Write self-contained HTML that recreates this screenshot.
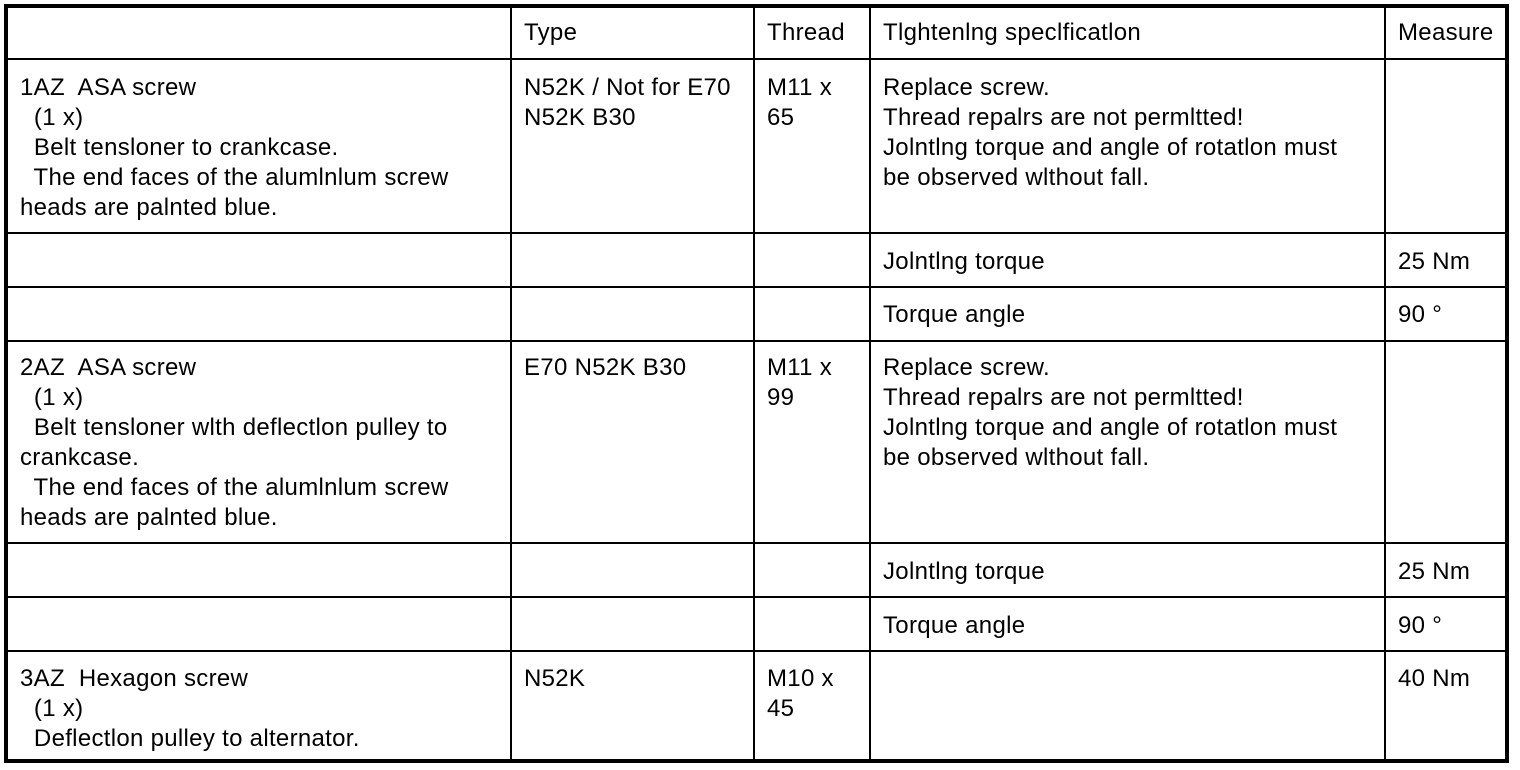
<!DOCTYPE html>
<html><head><meta charset="utf-8"><style>
html,body{margin:0;padding:0;background:#fff;}
body{width:1520px;height:770px;position:relative;overflow:hidden;font-family:"Liberation Sans",Arial,sans-serif;font-size:24px;color:#000;letter-spacing:0.3px;}
.b{position:absolute;left:4px;top:4px;width:1505px;height:759px;border:4px solid #000;box-sizing:border-box;}
.h{position:absolute;left:6px;width:1501px;height:2px;background:#000;}
.v{position:absolute;width:2px;background:#000;}
.t{position:absolute;line-height:30px;white-space:pre;}
</style></head><body>
<div class="b"></div>
<div class="h" style="top:58px"></div>
<div class="h" style="top:232px"></div>
<div class="h" style="top:286px"></div>
<div class="h" style="top:340px"></div>
<div class="h" style="top:542px"></div>
<div class="h" style="top:596px"></div>
<div class="h" style="top:650px"></div>
<div class="v" style="left:510px;top:6px;height:757px"></div>
<div class="v" style="left:753px;top:6px;height:757px"></div>
<div class="v" style="left:869px;top:6px;height:757px"></div>
<div class="v" style="left:1384px;top:6px;height:757px"></div>

<div class="t" style="left:524px;top:18px">Type</div>
<div class="t" style="left:767px;top:18px">Thread</div>
<div class="t" style="left:883px;top:18px">Tlghtenlng speclficatlon</div>
<div class="t" style="left:1398px;top:18px">Measure</div>

<div class="t" style="left:20px;top:73px">1AZ  ASA screw
  (1 x)
  Belt tensloner to crankcase.
  The end faces of the alumlnlum screw
heads are palnted blue.</div>
<div class="t" style="left:524px;top:73px">N52K / Not for E70
N52K B30</div>
<div class="t" style="left:767px;top:73px">M11 x
65</div>
<div class="t" style="left:883px;top:73px">Replace screw.
Thread repalrs are not permltted!
Jolntlng torque and angle of rotatlon must
be observed wlthout fall.</div>

<div class="t" style="left:883px;top:247px">Jolntlng torque</div>
<div class="t" style="left:1398px;top:247px">25 Nm</div>
<div class="t" style="left:883px;top:300px">Torque angle</div>
<div class="t" style="left:1398px;top:300px">90 °</div>

<div class="t" style="left:20px;top:353px">2AZ  ASA screw
  (1 x)
  Belt tensloner wlth deflectlon pulley to
crankcase.
  The end faces of the alumlnlum screw
heads are palnted blue.</div>
<div class="t" style="left:524px;top:353px">E70 N52K B30</div>
<div class="t" style="left:767px;top:353px">M11 x
99</div>
<div class="t" style="left:883px;top:353px">Replace screw.
Thread repalrs are not permltted!
Jolntlng torque and angle of rotatlon must
be observed wlthout fall.</div>

<div class="t" style="left:883px;top:557px">Jolntlng torque</div>
<div class="t" style="left:1398px;top:557px">25 Nm</div>
<div class="t" style="left:883px;top:611px">Torque angle</div>
<div class="t" style="left:1398px;top:611px">90 °</div>

<div class="t" style="left:20px;top:664px">3AZ  Hexagon screw
  (1 x)
  Deflectlon pulley to alternator.</div>
<div class="t" style="left:524px;top:664px">N52K</div>
<div class="t" style="left:767px;top:664px">M10 x
45</div>
<div class="t" style="left:1398px;top:664px">40 Nm</div>
</body></html>
